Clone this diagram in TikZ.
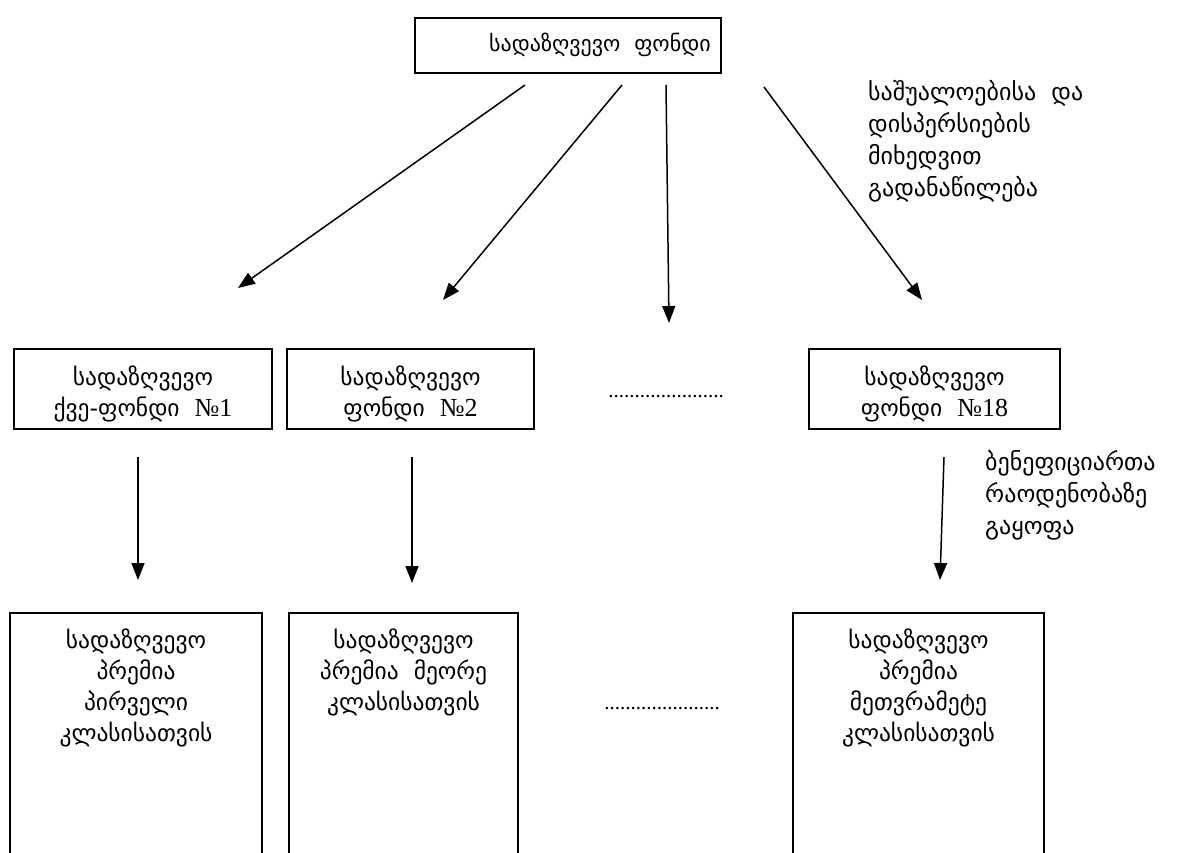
\documentclass[tikz,border=0pt]{standalone}
\usepackage{fontspec}
\setmainfont{Liberation Serif}
\newfontfamily\geo{DejaVu Sans}
\usetikzlibrary{arrows.meta}
\begin{document}
\begin{tikzpicture}[x=1pt,y=-1pt,
  box/.style={draw,line width=1.6pt,inner sep=0pt},
  txt/.style={font=\geo\fontsize{23.5}{31}\selectfont,align=center,inner sep=0pt},
  lbl/.style={font=\geo\fontsize{24}{32}\selectfont,align=left,inner sep=0pt,anchor=north west},
  dots/.style={font=\fontsize{21}{24}\selectfont,inner sep=0pt},
  arr/.style={line width=1.5pt,-{Triangle[length=17pt,width=13pt]}}]
\useasboundingbox (0,0) rectangle (1192,853);
\clip (0,0) rectangle (1192,853);
% top
\node[box,minimum width=306pt,minimum height=55pt] (top) at (568,45.5) {};
\node[txt,font=\geo\fontsize{22}{30}\selectfont,anchor=west] (toptxt) at (489,45) {სადაზღვევო\ \ ფონდი};
\node[lbl] (lab1) at (868,80) {საშუალოებისა\ \ და\\დისპერსიების\\მიხედვით\\გადანაწილება};
% arrows from top
\coordinate (s1) at (525,85); \coordinate (e1) at (238,288);
\coordinate (s2) at (622,85); \coordinate (e2) at (443,300);
\coordinate (s3) at (666,85); \coordinate (e3) at (669,323);
\coordinate (s4) at (764,87); \coordinate (e4) at (922,300);
\draw[arr] (s1) -- (e1);
\draw[arr] (s2) -- (e2);
\draw[arr] (s3) -- (e3);
\draw[arr] (s4) -- (e4);
% middle row
\node[box,minimum width=258pt,minimum height=80pt] (m1) at (143,389) {};
\node[box,minimum width=247pt,minimum height=80pt] (m2) at (410.5,389) {};
\node[box,minimum width=251pt,minimum height=80pt] (m3) at (934.5,389) {};
\node[txt] (m1t) at (143,394) {სადაზღვევო\\ქვე-ფონდი\ \ {\rmfamily\fontsize{26}{31}\selectfont №1}};
\node[txt] (m2t) at (410.5,394) {სადაზღვევო\\ფონდი\ \ {\rmfamily\fontsize{26}{31}\selectfont №2}};
\node[txt] (m3t) at (934.5,394) {სადაზღვევო\\ფონდი\ \ {\rmfamily\fontsize{26}{31}\selectfont №18}};
\node[dots] (d1) at (666,397) {......................};
% down arrows
\coordinate (s5) at (138,457); \coordinate (e5) at (138,580);
\coordinate (s6) at (412,457); \coordinate (e6) at (412,583);
\coordinate (s7) at (944,457); \coordinate (e7) at (940,580);
\draw[arr] (s5) -- (e5);
\draw[arr] (s6) -- (e6);
\draw[arr] (s7) -- (e7);
\node[lbl] (lab2) at (985,450) {ბენეფიციართა\\რაოდენობაზე\\გაყოფა};
% bottom row
\node[box,minimum width=252pt,minimum height=300pt,anchor=north] (b1) at (136,612) {};
\node[box,minimum width=229pt,minimum height=300pt,anchor=north] (b2) at (403.5,612) {};
\node[box,minimum width=251pt,minimum height=300pt,anchor=north] (b3) at (918.5,612) {};
\node[txt,anchor=north] (b1t) at (136,629) {სადაზღვევო\\პრემია\\პირველი\\კლასისათვის};
\node[txt,anchor=north] (b2t) at (403.5,629) {სადაზღვევო\\პრემია\ \ მეორე\\კლასისათვის};
\node[txt,anchor=north] (b3t) at (918.5,629) {სადაზღვევო\\პრემია\\მეთვრამეტე\\კლასისათვის};
\node[dots] (d2) at (662,709) {......................};
\end{tikzpicture}
\end{document}
